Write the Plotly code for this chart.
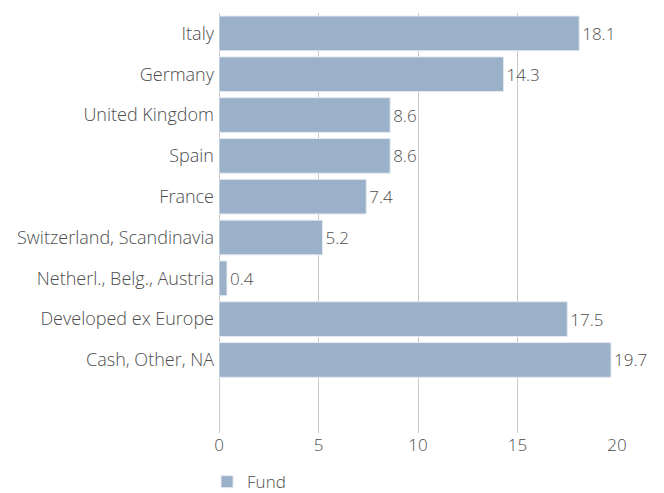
import plotly.graph_objects as go

categories = ["Italy", "Germany", "United Kingdom", "Spain", "France",
              "Switzerland, Scandinavia", "Netherl., Belg., Austria",
              "Developed ex Europe", "Cash, Other, NA"]
fund_values = [18.1, 14.3, 8.6, 8.6, 7.4, 5.2, 0.4, 17.5, 19.7]
x_ticks = [0, 5, 10, 15, 20]

FONT = "Open Sans"
TXT = "#4d4d4d"
BAR = "#9bb0c9"
GRID = "#c9c9c9"

fnt = dict(family=FONT, size=17, color=TXT, weight=300)
fnt_y = dict(family=FONT, size=18, color=TXT, weight=300)

fig = go.Figure()
fig.add_trace(go.Bar(
    y=categories, x=fund_values, orientation="h", name="Fund",
    marker=dict(color=BAR, line=dict(color="#e4eaf2", width=1)),
    text=[f"{v:.1f}" for v in fund_values], textposition="outside",
    textfont=fnt,
    cliponaxis=False, showlegend=True,
))

fig.update_layout(
    width=664, height=493,
    margin=dict(l=219, r=47, t=13, b=60, autoexpand=False),
    paper_bgcolor="white", plot_bgcolor="white",
    bargap=0.15,
    font=fnt,
    showlegend=True,
    legend=dict(orientation="h", x=-0.03, xanchor="left", y=-0.117, yanchor="middle",
                font=fnt, itemwidth=30, bgcolor="rgba(0,0,0,0)"),
    xaxis=dict(range=[0, 20], tickvals=x_ticks, showgrid=True, gridcolor=GRID,
               gridwidth=1, zeroline=True, zerolinecolor=GRID, zerolinewidth=1,
               showline=False, ticks="", tickfont=fnt),
    yaxis=dict(type="category", categoryorder="array", categoryarray=categories,
               range=[9.79, -0.5], showgrid=False, showline=False, ticks="",
               ticklabelstandoff=4, tickfont=fnt_y),
)

fig.write_html("out.html", config={"displayModeBar": False},
               post_script="document.body.style.margin='0';")
